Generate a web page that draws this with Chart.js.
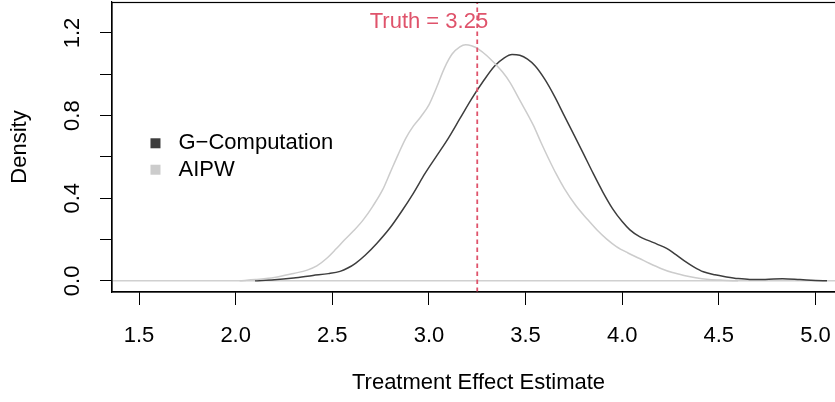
<!DOCTYPE html>
<html>
<head>
<meta charset="utf-8">
<title>Treatment effect densities</title>
<script src="https://cdn.jsdelivr.net/npm/chart.js@4.4.1/dist/chart.umd.min.js"></script>
<style>
  html, body { margin: 0; padding: 0; background: #fff; overflow: hidden; }
  #wrap { position: relative; width: 850px; height: 402px; }
</style>
</head>
<body>
<div id="wrap"><canvas id="densityChart"></canvas></div>
<script>
// density estimates
const gcompX = [2.10, 2.20, 2.30, 2.40, 2.48, 2.54, 2.58, 2.62, 2.67, 2.73, 2.80, 2.86, 2.92, 2.98, 3.04,
  3.10, 3.16, 3.22, 3.28, 3.34, 3.39, 3.43, 3.47, 3.51, 3.55, 3.60, 3.65, 3.70, 3.75, 3.80, 3.85, 3.90,
  3.95, 4.00, 4.04, 4.09, 4.13, 4.18, 4.23, 4.27, 4.32, 4.37, 4.42, 4.48, 4.54, 4.60, 4.66, 4.74, 4.83,
  4.92, 5.00, 5.06];
const gcompY = [0.000, 0.005, 0.014, 0.026, 0.035, 0.046, 0.062, 0.085, 0.124, 0.181, 0.258, 0.338, 0.425, 0.520, 0.605,
  0.690, 0.785, 0.880, 0.965, 1.040, 1.080, 1.096, 1.092, 1.073, 1.040, 0.975, 0.893, 0.800, 0.708, 0.615, 0.520, 0.430,
  0.350, 0.287, 0.247, 0.214, 0.197, 0.178, 0.157, 0.132, 0.098, 0.068, 0.044, 0.029, 0.019, 0.011, 0.007, 0.007, 0.010,
  0.006, 0.002, 0.000];

const aipwX = [2.02, 2.10, 2.20, 2.30, 2.37, 2.42, 2.47, 2.52, 2.56, 2.61, 2.66, 2.71, 2.76, 2.80, 2.84,
  2.88, 2.92, 2.96, 3.00, 3.04, 3.08, 3.12, 3.16, 3.19, 3.22, 3.26, 3.30, 3.34, 3.38, 3.42, 3.47, 3.54,
  3.58, 3.62, 3.66, 3.70, 3.76, 3.82, 3.87, 3.92, 3.97, 4.03, 4.09, 4.14, 4.20, 4.26, 4.32, 4.38, 4.45,
  4.52, 4.60];
const aipwY = [0.000, 0.006, 0.016, 0.036, 0.052, 0.072, 0.108, 0.155, 0.195, 0.242, 0.295, 0.362, 0.440, 0.525, 0.610,
  0.690, 0.750, 0.797, 0.852, 0.937, 1.030, 1.098, 1.133, 1.143, 1.138, 1.120, 1.090, 1.053, 1.012, 0.960, 0.875, 0.754,
  0.670, 0.590, 0.515, 0.448, 0.365, 0.298, 0.246, 0.202, 0.166, 0.135, 0.108, 0.085, 0.060, 0.040, 0.026, 0.015, 0.007,
  0.003, 0.000];

const seriesLabels = ['G\u2212Computation', 'AIPW'];
const seriesColors = ['#3d3d3d', '#cccccc'];
const truth = 3.25;
const truthLabelAt = [3.0, 1.253];
const truthColor = '#DF536B';

const xTicks = [1.5, 2.0, 2.5, 3.0, 3.5, 4.0, 4.5, 5.0];
const yTicks = [0.0, 0.2, 0.4, 0.6, 0.8, 1.0, 1.2];
const yTickLabels = [0.0, 0.4, 0.8, 1.2];
const xRange = [1.36, 5.153];
const yRange = [-0.054, 1.35];

const toPoints = (xs, ys) => xs.map((x, i) => ({ x: x, y: ys[i] }));
const fontFamily = "'Liberation Sans', Arial, Helvetica, sans-serif";
const fontSize = 22;
Chart.defaults.font.family = fontFamily;
Chart.defaults.color = '#000';

// R-style extras: zero line, box, truth label, legend
const rExtras = {
  id: 'rExtras',
  beforeDatasetsDraw(chart) {
    const { ctx, chartArea, scales } = chart;
    const y0 = scales.y.getPixelForValue(0);
    ctx.save();
    ctx.strokeStyle = '#d0d0d0';
    ctx.lineWidth = 1.5;
    ctx.beginPath();
    ctx.moveTo(chartArea.left, y0);
    ctx.lineTo(chartArea.right, y0);
    ctx.stroke();
    ctx.restore();
  },
  afterDraw(chart) {
    const { ctx, chartArea, scales } = chart;
    ctx.save();
    ctx.strokeStyle = '#000';
    ctx.lineWidth = 1.2;
    ctx.strokeRect(chartArea.left, chartArea.top + 0.5, chartArea.right - chartArea.left, chartArea.bottom - chartArea.top - 0.5);

    ctx.font = fontSize + 'px ' + fontFamily;
    ctx.fillStyle = truthColor;
    ctx.textAlign = 'center';
    ctx.textBaseline = 'middle';
    ctx.fillText('Truth = ' + truth.toFixed(2), scales.x.getPixelForValue(truthLabelAt[0]), scales.y.getPixelForValue(truthLabelAt[1]));

    // legend
    const lx = scales.x.getPixelForValue(1.585);
    seriesLabels.forEach((label, i) => {
      const ly = scales.y.getPixelForValue(0.666 - i * 0.128);
      ctx.fillStyle = seriesColors[i];
      ctx.fillRect(lx - 5, ly - 5, 10, 10);
      ctx.fillStyle = '#000';
      ctx.textAlign = 'left';
      ctx.fillText(label, lx + 23, ly);
    });
    ctx.restore();
  }
};

const ctx = document.getElementById('densityChart').getContext('2d');
const densityChart = new Chart(ctx, {
  type: 'line',
  data: {
    datasets: [
      {
        label: 'Truth',
        data: [{ x: truth, y: yRange[0] }, { x: truth, y: yRange[1] }],
        borderColor: truthColor,
        borderWidth: 1.8,
        borderDash: [4.5, 3.5],
        pointRadius: 0,
        order: 0,
      },
      {
        label: seriesLabels[1],
        data: toPoints(aipwX, aipwY),
        borderColor: seriesColors[1],
        borderWidth: 1.5,
        pointRadius: 0,
        cubicInterpolationMode: 'monotone',
        order: 1,
      },
      {
        label: seriesLabels[0],
        data: toPoints(gcompX, gcompY),
        borderColor: seriesColors[0],
        borderWidth: 1.5,
        pointRadius: 0,
        cubicInterpolationMode: 'monotone',
        order: 2,
      },
    ]
  },
  options: {
    responsive: true,
    maintainAspectRatio: false,
    animation: false,
    layout: { padding: { top: 2, right: 5, left: 0, bottom: 0 } },
    plugins: {
      legend: { display: false },
      tooltip: { enabled: false },
    },
    scales: {
      x: {
        type: 'linear',
        min: xRange[0],
        max: xRange[1],
        afterBuildTicks: (scale) => { scale.ticks = xTicks.map(v => ({ value: v })); },
        afterFit: (scale) => { scale.height = 110; scale.paddingLeft = 0; scale.paddingRight = 0; },
        grid: { drawOnChartArea: false, drawTicks: true, tickLength: 13, color: '#000', lineWidth: 1 },
        border: { display: true, color: '#000', width: 1.2 },
        ticks: {
          autoSkip: false,
          maxRotation: 0,
          padding: 17.5,
          font: { size: fontSize },
          callback: (value) => value.toFixed(1),
        },
        title: {
          display: true,
          text: 'Treatment Effect Estimate',
          font: { size: fontSize },
          padding: { top: 0, bottom: 5.8 },
        },
      },
      y: {
        type: 'linear',
        min: yRange[0],
        max: yRange[1],
        afterBuildTicks: (scale) => { scale.ticks = yTicks.map(v => ({ value: v })); },
        afterFit: (scale) => { scale.width = 112; scale.paddingTop = 0; scale.paddingBottom = 0; },
        grid: { drawOnChartArea: false, drawTicks: true, tickLength: 12, color: '#000', lineWidth: 1 },
        border: { display: true, color: '#000', width: 1.2 },
        ticks: {
          autoSkip: false,
          minRotation: 90,
          maxRotation: 90,
          crossAlign: 'center',
          padding: 12,
          font: { size: fontSize },
          callback: (value) => (yTickLabels.includes(value) ? value.toFixed(1) : ''),
        },
        title: {
          display: true,
          text: 'Density',
          font: { size: fontSize },
          padding: { top: 6.8, bottom: 0 },
        },
      }
    }
  },
  plugins: [rExtras]
});
</script>
</body>
</html>
